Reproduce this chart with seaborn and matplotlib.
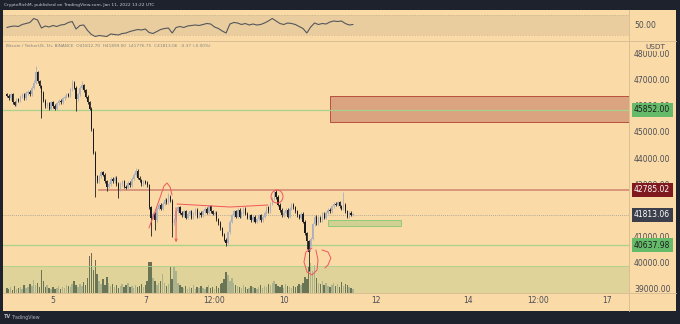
import numpy as np
import pandas as pd
import matplotlib
matplotlib.use("Agg")
import matplotlib.pyplot as plt
import seaborn as sns
from matplotlib.patches import Rectangle, Ellipse
from matplotlib.lines import Line2D
from matplotlib.transforms import blended_transform_factory

# ---------------- data (hourly BTCUSDT, hours since Jan 4 00:00 UTC) ----------------
closes = [
    # Jan 4
    46400, 46300, 46450, 46150, 46050, 46250, 46200, 46350, 46450, 46300, 46500, 46550,
    46450, 46700, 46900, 47300, 46950, 46750, 46500, 46200, 46000, 46100, 45900, 46150,
    # Jan 5
    46000, 45900, 46100, 46200, 46150, 46300, 46350, 46450, 46400, 46650, 46900, 46700,
    46250, 46450, 46700, 46800, 46600, 46350, 46150, 45900, 45100, 44200, 43300, 43100,
    # Jan 6
    43300, 43450, 43350, 43100, 42900, 43000, 43200, 43100, 43250, 43000, 42800, 43000,
    43100, 42900, 42850, 43050, 42950, 43200, 43350, 43500, 43250, 43150, 43000, 43100,
    # Jan 7
    43050, 42950, 42100, 41700, 41850, 41600, 42050, 42200, 42050, 42250, 42400, 42300,
    42500, 42350, 41500, 41650, 41950, 42100, 41900, 41800, 41950, 41700, 41850, 41950,
    # Jan 8
    41700, 41850, 42000, 41750, 41900, 41800, 41950, 42050, 41900, 42150, 41950, 41850,
    41900, 41650, 41500, 41300, 41050, 40850, 40750, 41150, 41550, 41800, 41950, 41750,
    # Jan 9
    42000, 41750, 41900, 42050, 41850, 41700, 41800, 41600, 41750, 41550, 41650, 41800,
    41600, 41750, 41900, 42100, 41950, 42250, 42450, 42700, 42500, 42200, 42000, 41800,
    # Jan 10
    41900, 42000, 41750, 42050, 42200, 42100, 41950, 41800, 41700, 41850, 41550, 41100,
    40800, 40400, 40900, 41450, 41750, 41500, 41700, 41600, 41850, 41700, 41900, 42000,
    # Jan 11
    41950, 42150, 42250, 42200, 42300, 42150, 42050, 42200, 41950, 41750, 41900, 41812.70,
    41813.06,
]
first_open = 46450
wick_highs = {14: 47000, 15: 47550, 34: 47000, 39: 46950, 67: 43600, 84: 42650,
              139: 42770, 175: 42700, 180: 41899}
wick_lows = {18: 45550, 36: 45800, 46: 42500, 52: 42750, 58: 42450, 75: 41000, 77: 41250,
             86: 40950, 114: 40600, 156: 40500, 157: 39650, 158: 40600, 180: 41776.75}

# volume, hundreds of BTC
volume = [
    5, 4, 6, 3, 7, 4, 5, 6, 4, 8, 5, 6, 9, 7,
    13, 8, 10, 6, 23, 12, 6, 8, 5, 4,
    6, 4, 5, 7, 4, 6, 5, 8, 7, 6,
    9, 12, 8, 6, 9, 7, 11, 8,
    15, 37, 40, 23, 33, 19,
    12, 9, 14, 8, 16, 10, 7, 9,
    6, 8, 5, 7, 9, 6, 8, 10, 6, 7, 5, 8, 6, 7, 9, 6,
    8, 12, 31, 31, 15, 12, 8, 10, 12, 19, 10, 7, 9, 26, 14, 26, 22, 10, 8,
    6, 5, 7, 4, 6, 5, 8, 4, 6, 5, 7, 5, 4, 6, 8, 5, 6, 4, 7, 5, 9, 10,
    14, 21, 18, 12, 15, 10, 8,
    7, 6, 5, 8, 6, 4, 5, 7, 6, 5, 4, 6, 8, 5, 7, 6, 9, 8, 10, 12, 9, 7, 6, 8, 5, 9, 7, 6, 5, 7, 6,
    7, 9, 8, 10, 16, 14, 26, 30, 22, 28, 15, 10, 9, 12, 8, 10, 7,
    6, 8, 10, 7, 9, 6, 11, 7, 9, 8, 6, 5, 4,
]

# RSI sampled every 2 hours
rsi_values = [
    45, 47, 48, 47, 51, 53, 55, 63, 60, 44,
    48, 46, 49, 47, 50, 51, 55, 57, 42, 49,
    50, 39, 31, 27, 29, 28, 27, 32, 31, 30,
    33, 34, 37, 39, 41, 40, 42, 35, 33, 37,
    41, 43, 44, 34, 45, 47, 45, 48, 49, 50,
    49, 51, 53, 52, 46, 43, 38, 34, 52, 55,
    54, 51, 53, 50, 52, 50, 51, 54, 58, 63,
    58, 53, 51, 54, 53, 51, 47, 43, 34, 46,
    54, 51, 53, 52, 56, 58, 57, 58, 53, 50,
    51,
]

# price scale labels that stay visible (42000 sits under the last-price tag)
price_ticks = [39000, 40000, 41000, 43000, 44000, 45000, 46000, 47000, 48000]
time_tick_hours = [24, 72, 108, 144, 192, 240, 276, 312]
time_tick_labels = ["5", "7", "12:00", "10", "12", "14", "12:00", "17"]

support_levels = [45852.00, 40637.98]
resistance_level = 42785.02
resistance_start = 47.4
last_price = 41813.06
supply_zone = (168.0, 45385, 46385)     # start hour, low, high
demand_zone = (167.0, 204.9, 41370, 41620)  # start, end, low, high
volume_zone_top = 39858

# hand drawn annotations (hour, price)
arc_t = [73.9, 77.0, 79.6, 81.7, 83.3, 84.9, 85.9]
arc_p = [41308, 41923, 42462, 42923, 43038, 42885, 42577]
arrow_t, arrow_p0, arrow_p1 = 88.0, 42192, 40654
flat_t = [88.5, 116.0, 135.8]
flat_p = [42231, 42115, 42192]
circle_c = (140.5, 42519)
loop_t = [158.7, 155.5, 154.5, 156.1, 158.7, 161.3, 161.8, 160.7]
loop_p = [40538, 40385, 40000, 39615, 39500, 39692, 40077, 40462]
hook_t = [163.9, 167.0, 168.5, 167.0, 165.4]
hook_p = [40462, 40385, 40154, 39885, 39769]

# ---------------- style ----------------
sns.set_style("white")
plt.rcParams["font.family"] = ["DejaVu Sans"]

PEACH = "#fadaa6"
FRAME = "#1e222d"
SEP = "#d9bf94"
TXT = "#4a4d57"
UP = "#a9afbd"
DOWN = "#1b1b1e"
VUP = "#bdb497"
VDOWN = "#6f6b55"
GREEN_LINE = "#a9d18e"
ANNOT = "#f0555c"

W, H = 680, 324
def fx(px): return px / W
def fy(py): return 1 - py / H

fig = plt.figure(figsize=(6.8, 3.24), dpi=100, facecolor=FRAME)

bg = fig.add_axes([fx(3), fy(311), fx(676) - fx(3), fy(10) - fy(311)])
bg.set_facecolor(PEACH)
bg.set_xticks([]); bg.set_yticks([])
for s in bg.spines.values():
    s.set_visible(False)
bg.set_zorder(-10)

main_rect = [fx(3), fy(293), fx(629) - fx(3), fy(40.5) - fy(293)]
ax_vol = fig.add_axes(main_rect)
ax = fig.add_axes(main_rect, sharex=ax_vol)
ax_rsi = fig.add_axes([fx(3), fy(40.5), fx(629) - fx(3), fy(11) - fy(40.5)], sharex=ax_vol)
ax_vol.set_zorder(0); ax.set_zorder(1); ax_rsi.set_zorder(1)
for a in (ax_vol, ax, ax_rsi):
    a.patch.set_visible(False)
    for s in a.spines.values():
        s.set_visible(False)
    a.grid(False)

hours = np.arange(len(closes))
c = np.array(closes, dtype=float)
o = np.concatenate([[first_open], c[:-1]])
o[-1] = 41812.70
hi = np.maximum(o, c) + 60
lo = np.minimum(o, c) - 60
for k, v in wick_highs.items():
    hi[k] = v
for k, v in wick_lows.items():
    lo[k] = v
up = c >= o
cols = np.where(up, UP, DOWN)

df = pd.DataFrame({"hour": hours, "open": o, "close": c, "high": hi, "low": lo,
                   "volume": volume, "up": up})

# volume
ax_vol.bar(df["hour"], df["volume"], width=0.75,
           color=np.where(df["up"], VUP, VDOWN), linewidth=0)
ax_vol.set_ylim(0, 252)
ax_vol.tick_params(left=False, labelleft=False, bottom=False, labelbottom=False)

# zones and levels
ax.axhspan(38000, volume_zone_top, color="#4caf50", alpha=0.15, lw=0, zorder=0.5)
ax.axhline(volume_zone_top, color=GREEN_LINE, lw=0.6, zorder=0.6)
ax.add_patch(Rectangle((supply_zone[0], supply_zone[1]), 200, supply_zone[2] - supply_zone[1],
                       facecolor=(178/255, 100/255, 80/255, 0.45), edgecolor="#b8503e", lw=0.7, zorder=1))
ax.add_patch(Rectangle((demand_zone[0], demand_zone[2]), demand_zone[1] - demand_zone[0],
                       demand_zone[3] - demand_zone[2],
                       facecolor=(76/255, 175/255, 80/255, 0.22), edgecolor="#8fca7a", lw=0.7, zorder=1))
for lvl in support_levels:
    ax.axhline(lvl, color=GREEN_LINE, lw=0.9, zorder=1.2)
ax.hlines(resistance_level, resistance_start, 400, color="#d9967a", lw=1.4, zorder=1.2)
ax.axhline(last_price, color="#9a9a9a", lw=0.6, ls=(0, (1, 1.5)), zorder=1.2)

# candles
ax.vlines(df["hour"], df["low"], df["high"], colors=cols, lw=0.6, zorder=3)
body = np.maximum(np.abs(c - o), 18)
ax.bar(df["hour"], body, bottom=np.minimum(o, c), width=0.62, color=cols, linewidth=0, zorder=3)

# annotations
ax.plot(arc_t, arc_p, color=ANNOT, lw=0.7, zorder=4, solid_capstyle="round")
ax.annotate("", xy=(arrow_t, arrow_p1), xytext=(arrow_t, arrow_p0),
            arrowprops=dict(arrowstyle="->", color=ANNOT, lw=0.7, mutation_scale=4), zorder=4)
ax.plot(flat_t, flat_p, color=ANNOT, lw=0.7, zorder=4)
ax.add_patch(Ellipse(circle_c, width=6.2, height=500, fill=False, ec=ANNOT, lw=0.7, zorder=4))
ax.plot(loop_t, loop_p, color=ANNOT, lw=0.7, zorder=4)
ax.plot(hook_t, hook_p, color=ANNOT, lw=0.7, zorder=4)

ax.set_xlim(-1.98, 323.5)
ax.set_ylim(38808, 48519)
ax.yaxis.tick_right()
ax.set_yticks(price_ticks)
ax.set_yticklabels([f"{v:.2f}" for v in price_ticks])
ax.set_xticks(time_tick_hours)
ax.set_xticklabels(time_tick_labels)
ax.tick_params(axis="y", length=0, pad=3.6, labelsize=5.5, labelcolor=TXT)
ax.tick_params(axis="x", length=0, pad=2.2, labelsize=5.5, labelcolor=TXT)

# price tags
blend = blended_transform_factory(ax.transAxes, ax.transData)
tags = [(45852.00, "#66bb6a", "#1b1b1b"), (42785.02, "#7f1a20", "#ffffff"),
        (41813.06, "#3b3f4b", "#ffffff"), (40637.98, "#66bb6a", "#1b1b1b")]
for val, fc, tc in tags:
    ax.text(1.008, val, f"{val:.2f}", transform=blend, ha="left", va="center",
            fontsize=5.5, color=tc, clip_on=False, zorder=20,
            bbox=dict(boxstyle="square,pad=0.32", fc=fc, ec="none"))
ax.text(1.026, 48260, "USDT", transform=blend, ha="left", va="center", fontsize=5.2,
        color=TXT, clip_on=False, zorder=20,
        bbox=dict(boxstyle="square,pad=0.15", fc=PEACH, ec="none"))

# RSI panel
rsi_hours = np.arange(0, 2 * len(rsi_values), 2)
ax_rsi.axhspan(30, 70, color="#e9cd9f", lw=0, zorder=0)
for lvl in (30, 70):
    ax_rsi.axhline(lvl, color="#cdb38a", lw=0.5, ls=(0, (2, 2)), zorder=0.5)
sns.lineplot(x=rsi_hours, y=rsi_values, ax=ax_rsi, color="#55575c", lw=0.8, zorder=2)
ax_rsi.set_ylim(19, 78)
ax_rsi.set_xlabel(""); ax_rsi.set_ylabel("")
ax_rsi.yaxis.tick_right()
ax_rsi.set_yticks([50]); ax_rsi.set_yticklabels(["50.00"])
ax_rsi.tick_params(axis="y", length=0, pad=3.6, labelsize=5.5, labelcolor=TXT)
ax_rsi.tick_params(axis="x", bottom=False, labelbottom=False)

# separators
for (x0, y0, x1, y1) in [(629, 10, 629, 311), (3, 40.5, 676, 40.5), (3, 293, 676, 293)]:
    fig.add_artist(Line2D([fx(x0), fx(x1)], [fy(y0), fy(y1)], color=SEP, lw=0.7,
                          transform=fig.transFigure))

# texts
fig.text(fx(4), fy(5), "CryptoRichM, published on TradingView.com, Jan 11, 2022 13:22 UTC",
         fontsize=3.2, color="#c9ccd4", va="center", ha="left")
fig.text(fx(6), fy(46),
         "Bitcoin / TetherUS, 1h, BINANCE  O41812.70  H41899.00  L41776.75  C41813.06  -0.37 (-0.00%)",
         fontsize=3.1, color="#858585", va="center", ha="left")
fig.text(fx(4), fy(317), "TV", fontsize=3.6, color="#b2b5be", va="center", ha="left",
         fontweight="bold")
fig.text(fx(12), fy(317), "TradingView", fontsize=3.4, color="#b2b5be", va="center", ha="left")

fig.savefig("out.png", dpi=100, facecolor=FRAME)
